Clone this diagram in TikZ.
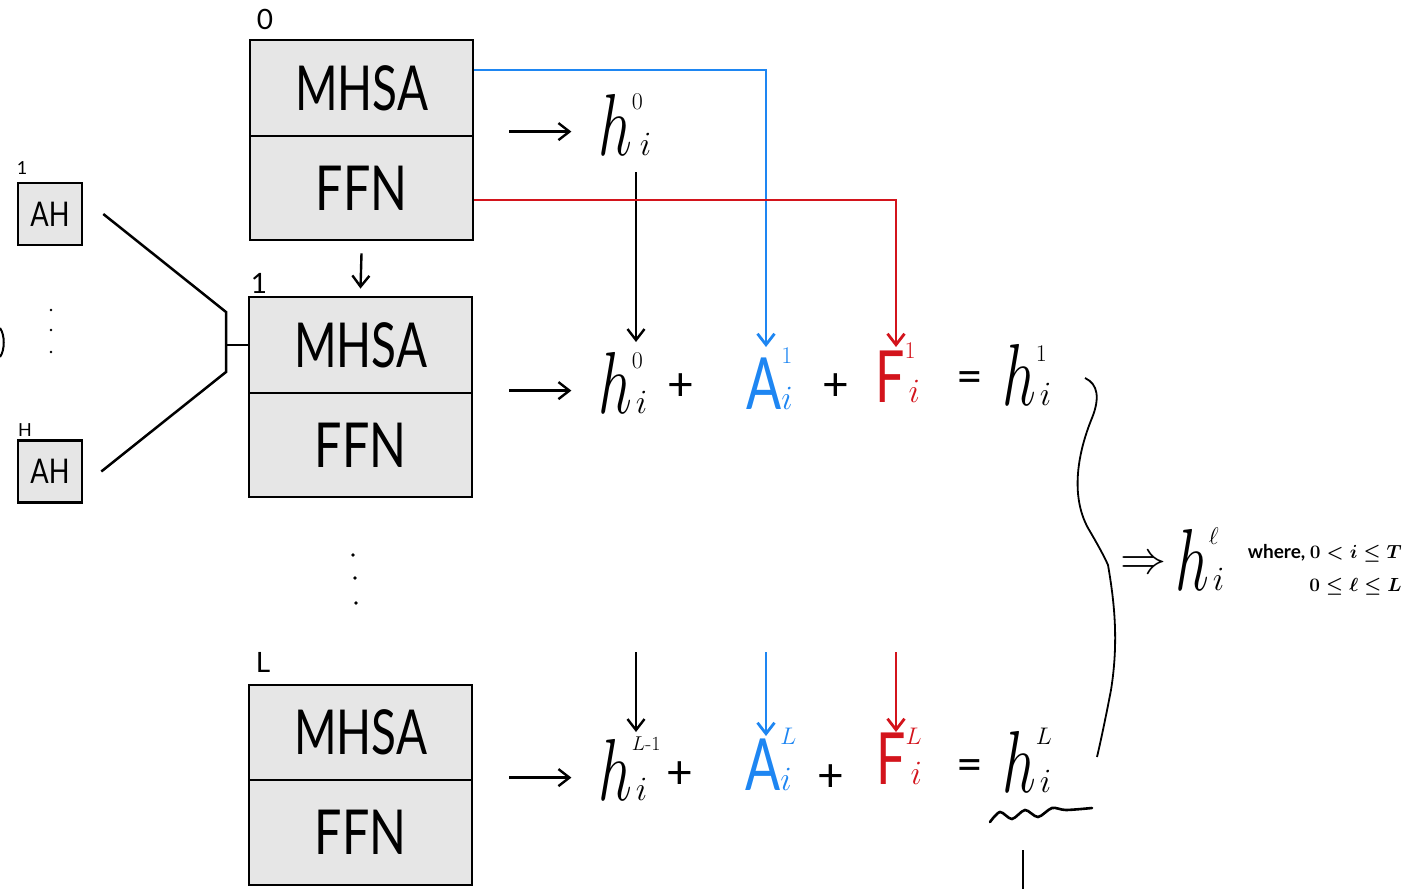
\RequirePackage{fix-cm}
\documentclass[tikz,border=0pt]{standalone}
\usepackage{graphicx}
\usepackage{fontspec}
\setsansfont{Lato}
\usetikzlibrary{arrows.meta,calc}
\definecolor{myblue}{HTML}{1E86F2}
\definecolor{myred}{HTML}{D3141C}
\definecolor{boxgray}{HTML}{E6E6E6}
\newcommand\sm[1]{\hbox{\fontsize{24}{24}\selectfont$#1$}}
\newcommand\smb[1]{\hbox{\fontsize{34}{34}\selectfont$#1$}}
\newcommand\hb{\scalebox{0.68}[1]{$h$}}
% base, sub, sup, raise of sup, shift of sub
\newcommand\trm[5]{#1\rlap{\raisebox{#4}{\sm{#3}}}\hspace{#5}\smb{#2}}
\begin{document}
\begin{tikzpicture}[x=1pt,y=-1pt,line width=2.5pt,
  blk/.style={draw=black,fill=boxgray,line width=2.8pt,minimum width=223pt,inner sep=0pt,
    font=\sffamily\fontsize{62}{62}\selectfont},
  ahbox/.style={draw=black,fill=boxgray,line width=2.6pt,minimum width=64pt,minimum height=62pt,inner sep=0pt,
    font=\sffamily\fontsize{34}{34}\selectfont},
  lbl/.style={inner sep=0pt,font=\sffamily\fontsize{28}{28}\selectfont},
  arr/.style={-{Straight Barb[length=11pt,width=17pt]},line width=2.4pt},
  eq/.style={anchor=base west,inner sep=0pt,font=\fontsize{88}{88}\selectfont},
  eqs/.style={anchor=base west,inner sep=0pt,font=\sffamily\fontsize{72}{72}\selectfont},
  op/.style={inner sep=0pt,font=\sffamily\fontsize{46}{46}\selectfont},
  wh/.style={anchor=base east,inner sep=0pt,font=\sffamily\bfseries\fontsize{19}{19}\selectfont\mathversion{bold}}]
\useasboundingbox (0,0) rectangle (1409,889);

% transformer blocks
\node[blk,minimum height=96pt]  (m0) at (361.5,88)  {\scalebox{0.74}[1]{MHSA}};
\node[blk,minimum height=104pt] (f0) at (361.5,188) {\scalebox{0.78}[1]{FFN}};
\node[blk,minimum height=96pt]  (m1) at (360.5,345) {\scalebox{0.74}[1]{MHSA}};
\node[blk,minimum height=104pt] (f1) at (360.5,445) {\scalebox{0.78}[1]{FFN}};
\node[blk,minimum height=95pt]  (mL) at (360.5,732.5) {\scalebox{0.74}[1]{MHSA}};
\node[blk,minimum height=105pt] (fL) at (360.5,832.5) {\scalebox{0.78}[1]{FFN}};
\node[lbl] (l0) at (265,19) {0};
\node[lbl] (l1) at (259,283) {1};
\node[lbl] (lL) at (263,662) {L};

% attention heads
\node[ahbox] (ah1) at (50,214) {\scalebox{0.8}[1]{AH}};
\node[ahbox] (ahH) at (50,471.5) {\scalebox{0.8}[1]{AH}};
\node[lbl,font=\sffamily\fontsize{18}{18}\selectfont] (la1) at (22,168) {1};
\node[lbl,font=\sffamily\fontsize{18}{18}\selectfont] (laH) at (25,430) {H};
\coordinate (j1) at (226,312);
\coordinate (j2) at (226,372);
\draw ($(ah1.east)+(20,0)$) -- (j1) -- (j2) -- ($(ahH.east)+(18,0)$);
\draw (m1.west -| j1) -- (m1.west);
\foreach \y in {310,330,352} \fill (51,\y) circle (1.4pt);
\foreach \x/\y in {353/555,355/578,356/603} \fill (\x,\y) circle (1.8pt);
\draw[line width=2pt] (0,328) .. controls (5,335) and (5,350) .. (0,357);

% arrow between blocks
\draw[arr] ($(f0.south)+(0,12)$) -- ($(m1.north)+(0,-7)$);

% outputs
\draw[arr] ($(f0.north east)+(35,-3)$) -- ++(62,0) coordinate (o0);
\draw[arr] ($(f1.north east)+(36,-1)$) -- ++(62,0) coordinate (o1);
\draw[arr] ($(fL.north east)+(36,-1)$) -- ++(62,0) coordinate (oL);

% top h
\node[eq] (h0) at (597,155) {\trm{\hb}{i}{0}{46pt}{8pt}};

% row 1
\node[eq] (h01) at (597,413) {\trm{\hb}{i}{0}{45pt}{4pt}};
\node[op] (p11) at (681,387) {+};
\node[eqs,text=myblue] (a1) at (745,409) {\trm{\scalebox{0.72}[1]{A}}{i}{1}{46pt}{0pt}};
\node[op] (p12) at (836,387) {+};
\node[eqs,text=myred] (fr1) at (874,402) {\trm{\scalebox{0.72}[1]{F}}{i}{1}{44pt}{4pt}};
\node[op] (e1) at (970,382) {=};
\node[eq] (h1) at (1001,405) {\trm{\hb}{i}{1}{44pt}{4pt}};

% row L
\node[eq] (hL1) at (597,800) {\trm{\hb}{i}{\hbox{\fontsize{20}{20}\selectfont$L$-1}}{50pt}{4pt}};
\node[op] (pL1) at (680,775) {+};
\node[eqs,text=myblue] (aL) at (744,790) {\trm{\scalebox{0.72}[1]{A}}{i}{L}{46pt}{0pt}};
\node[op] (pL2) at (831,778) {+};
\node[eqs,text=myred] (frL) at (875,784) {\trm{\scalebox{0.72}[1]{F}}{i}{L}{40pt}{5pt}};
\node[op] (eL) at (970,770) {=};
\node[eq] (hL) at (1001,792) {\trm{\hb}{i}{L}{48pt}{4pt}};

% vertical arrows
\coordinate (c0s) at (636,172); \coordinate (c0e) at (636,342);
\draw[arr] (c0s) -- (c0e);
\coordinate (ab1) at (766,347);
\draw[arr,myblue,line width=2.8pt] ($(m0.east)+(0,-18)$) -| (ab1);
\coordinate (fb1) at (896,347);
\draw[arr,myred,line width=2.8pt] ($(f0.east)+(0,12)$) -| (fb1);
\coordinate (k1) at (636,652); \coordinate (k2) at (636,732);
\draw[arr] (k1) -- (k2);
\coordinate (b1) at (766,652); \coordinate (b2) at (766,736);
\draw[arr,myblue,line width=2.8pt] (b1) -- (b2);
\coordinate (r1) at (896,652); \coordinate (r2) at (896,732);
\draw[arr,myred,line width=2.8pt] (r1) -- (r2);

% brace
\draw[line width=1.8pt] (1085,378) .. controls (1098,384) and (1100,398) .. (1092,418)
  .. controls (1078,452) and (1070,495) .. (1088,528)
  .. controls (1098,545) and (1104,556) .. (1108,565)
  .. controls (1114,600) and (1119,640) .. (1111,690)
  .. controls (1106,716) and (1101,740) .. (1097,757);

% result
\node[op] (imp) at (1143,565) {$\Rightarrow$};
\node[eq] (hl) at (1174,590) {\trm{\hb}{i}{\ell}{46pt}{4pt}};
\node[wh] (w1) at (1403,558) {where, $0<i\leq T$};
\node[wh] (w2) at (1403,591) {$0\leq\ell\leq L$};

% underline of final h
\draw[line width=2.6pt,line cap=round] plot[smooth] coordinates {(990,822) (1000,812) (1012,819) (1025,810) (1038,817) (1052,808) (1066,810) (1092,808)};
\coordinate (u1) at (1023,850); \coordinate (u2) at (1023,889);
\draw (u1) -- (u2);
\end{tikzpicture}
\end{document}
